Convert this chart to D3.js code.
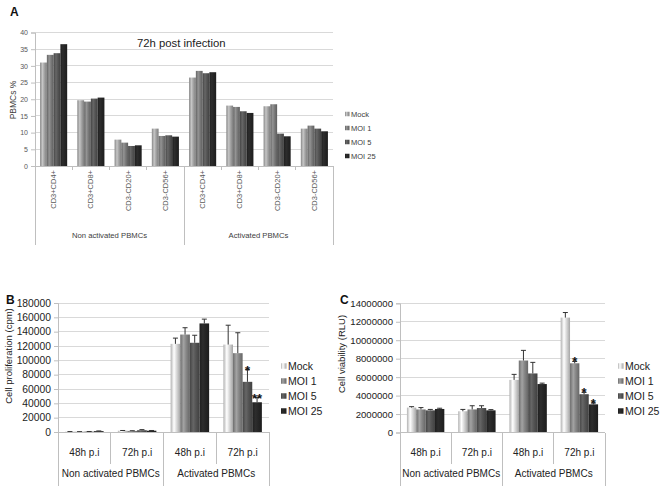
<!DOCTYPE html>
<html><head><meta charset="utf-8">
<script src="https://cdn.jsdelivr.net/npm/d3@7"></script>
<style>body{margin:0;background:#fff}svg{display:block;font-family:"Liberation Sans",Arial,sans-serif}</style>
</head><body>
<svg id="chart" width="661" height="486"></svg>
<script>
// ---------- data ----------
const seriesNames = ["Mock", "MOI 1", "MOI 5", "MOI 25"];

// Panel A
const aCategories = ["CD3+CD4+", "CD3+CD8+", "CD3-CD20+", "CD3-CD56+"];
const aGroups = ["Non activated PBMCs", "Activated PBMCs"];
const aMock  = [31.0, 19.7, 7.9, 11.2, 26.5, 18.1, 17.9, 11.2];
const aMOI1  = [33.3, 19.3, 7.0, 9.0, 28.5, 17.7, 18.5, 12.1];
const aMOI5  = [33.8, 20.2, 6.0, 9.2, 27.8, 16.4, 9.7, 11.2];
const aMOI25 = [36.5, 20.5, 6.2, 8.8, 28.1, 15.9, 8.9, 10.4];
const aTicks = [0, 5, 10, 15, 20, 25, 30, 35, 40];

// Panel B
const bCategories = ["48h p.i", "72h p.i"];
const bGroups = ["Non activated PBMCs", "Activated PBMCs"];
const bMock  = [400, 1800, 123000, 122000];
const bMOI1  = [300, 1500, 136000, 110000];
const bMOI5  = [500, 2500, 124500, 70000];
const bMOI25 = [1200, 1800, 151500, 41500];
const bMockErr  = [200, 300, 8000, 27000];
const bMOI1Err  = [200, 300, 9500, 28500];
const bMOI5Err  = [200, 800, 10500, 17000];
const bMOI25Err = [300, 300, 6000, 6500];
const bTicks = [0, 20000, 40000, 60000, 80000, 100000, 120000, 140000, 160000, 180000];
const bStars = [{cat: 3, s: 2, t: "*"}, {cat: 3, s: 3, t: "**"}];

// Panel C
const cMock  = [2700000, 2300000, 5700000, 12450000];
const cMOI1  = [2500000, 2500000, 7800000, 7500000];
const cMOI5  = [2400000, 2650000, 6400000, 4150000];
const cMOI25 = [2550000, 2400000, 5250000, 3050000];
const cMockErr  = [100000, 200000, 600000, 550000];
const cMOI1Err  = [200000, 400000, 1100000, 200000];
const cMOI5Err  = [100000, 250000, 1200000, 200000];
const cMOI25Err = [80000, 80000, 100000, 150000];
const cTicks = [0, 2000000, 4000000, 6000000, 8000000, 10000000, 12000000, 14000000];
const cStars = [{cat: 3, s: 1, t: "*"}, {cat: 3, s: 2, t: "*"}, {cat: 3, s: 3, t: "*"}];

// ---------- drawing ----------
const svg = d3.select("#chart");
const defs = svg.append("defs");
function grad(id, base) {
  const c = d3.color(base);
  const g = defs.append("linearGradient").attr("id", id).attr("x1", 0).attr("x2", 1).attr("y1", 0).attr("y2", 0);
  g.append("stop").attr("offset", "0%").attr("stop-color", c.darker(0.6));
  g.append("stop").attr("offset", "35%").attr("stop-color", c.brighter(0.5));
  g.append("stop").attr("offset", "60%").attr("stop-color", c);
  g.append("stop").attr("offset", "100%").attr("stop-color", c.darker(0.8));
}
const aColors = ["#a6a6a6", "#7c7c7c", "#565656", "#262626"];
const bcColors = ["#dcdcdc", "#888888", "#555555", "#262626"];
aColors.forEach((c, i) => grad("ga" + i, c));
bcColors.forEach((c, i) => grad("gb" + i, c));

function panel(o) {
  const g = svg.append("g");
  const y = d3.scaleLinear().domain(o.yDomain).range([o.bottom, o.top]);
  const nCat = o.series[0].length;
  const x = d3.scaleBand().domain(d3.range(nCat)).range([o.left, o.right]);
  const xs = d3.scaleBand().domain(d3.range(seriesNames.length)).range([0, x.bandwidth()]).paddingOuter(o.outerPad);
  // gridlines
  g.selectAll(".grid").data(o.ticks.slice(1)).join("line")
    .attr("x1", o.left).attr("x2", o.right).attr("y1", d => y(d)).attr("y2", d => y(d))
    .attr("stroke", "#d9d9d9").attr("stroke-width", 1).attr("shape-rendering", "crispEdges");
  // y axis
  const ya = d3.axisLeft(y).tickValues(o.ticks).tickSize(4).tickPadding(3).tickFormat(d3.format("d"));
  const yg = g.append("g").attr("transform", `translate(${o.left},0)`).call(ya);
  yg.select(".domain").attr("stroke", "#bfbfbf");
  yg.selectAll(".tick line").attr("stroke", "#bfbfbf");
  yg.selectAll("text").attr("font-size", o.tickFont).attr("fill", o.tickColor).attr("font-family", "Liberation Sans, Arial");
  // bars
  o.series.forEach((vals, s) => {
    g.selectAll(null).data(vals).join("rect")
      .attr("x", (d, i) => x(i) + xs(s)).attr("width", xs.bandwidth())
      .attr("y", d => y(d)).attr("height", d => o.bottom - y(d))
      .attr("fill", `url(#${o.gradPrefix}${s})`);
  });
  // error bars
  if (o.errors) {
    o.errors.forEach((errs, s) => {
      errs.forEach((e, i) => {
        const cx = x(i) + xs(s) + xs.bandwidth() / 2;
        const v = o.series[s][i];
        g.append("line").attr("x1", cx).attr("x2", cx).attr("y1", y(v)).attr("y2", y(v + e)).attr("stroke", "#333").attr("stroke-width", 1);
        g.append("line").attr("x1", cx - 2.5).attr("x2", cx + 2.5).attr("y1", y(v + e)).attr("y2", y(v + e)).attr("stroke", "#333").attr("stroke-width", 1);
      });
    });
  }
  if (o.stars) {
    o.stars.forEach(st => {
      const cx = x(st.cat) + xs(st.s) + xs.bandwidth() / 2;
      const top = o.series[st.s][st.cat] + (o.errors ? o.errors[st.s][st.cat] : 0);
      g.append("text").attr("x", cx).attr("y", y(top) + 5).attr("text-anchor", "middle")
        .attr("font-size", 13).attr("font-weight", "bold").attr("fill", "#111").text(st.t);
    });
  }
  // x axis line
  g.append("line").attr("x1", o.left).attr("x2", o.right).attr("y1", o.bottom).attr("y2", o.bottom)
    .attr("stroke", "#bfbfbf").attr("shape-rendering", "crispEdges");
  // category separators
  const perGroup = nCat / o.groups.length;
  d3.range(nCat + 1).forEach(i => {
    const xx = i < nCat ? x(i) : o.right;
    const isGroup = i % perGroup === 0;
    g.append("line").attr("x1", xx).attr("x2", xx).attr("y1", o.bottom)
      .attr("y2", isGroup ? o.groupLineEnd : o.catLineEnd)
      .attr("stroke", "#bfbfbf").attr("shape-rendering", "crispEdges");
  });
  // category labels
  d3.range(nCat).forEach(i => {
    const lab = o.catLabels[i % o.catLabels.length];
    const cx = x(i) + x.bandwidth() / 2;
    if (o.rotateCats) {
      g.append("text").attr("transform", `translate(${cx + 2.5},${o.bottom + 4}) rotate(-90)`)
        .attr("text-anchor", "end").attr("font-size", o.catFont).attr("fill", o.tickColor).text(lab);
    } else {
      g.append("text").attr("x", cx).attr("y", o.catY).attr("text-anchor", "middle")
        .attr("font-size", o.catFont).attr("fill", o.catColor).text(lab);
    }
  });
  // group labels
  o.groups.forEach((gl, gi) => {
    const x0 = x(gi * perGroup), x1 = gi * perGroup + perGroup < nCat ? x(gi * perGroup + perGroup) : o.right;
    g.append("text").attr("x", (x0 + x1) / 2).attr("y", o.groupY).attr("text-anchor", "middle")
      .attr("font-size", o.groupFont).attr("fill", o.catColor).text(gl);
  });
  // y title
  g.append("text").attr("transform", `translate(${o.yTitleX},${o.yTitleY}) rotate(-90)`)
    .attr("text-anchor", "middle").attr("font-size", o.yTitleFont).attr("fill", o.catColor).text(o.yTitle);
  // legend
  seriesNames.forEach((n, s) => {
    const ly = o.legendY + s * o.legendGap;
    g.append("rect").attr("x", o.legendX).attr("y", ly - o.legendBox / 2).attr("width", o.legendBox).attr("height", o.legendBox)
      .attr("fill", `url(#${o.gradPrefix}${s})`);
    g.append("text").attr("x", o.legendX + o.legendBox + 1.5).attr("y", ly).attr("dy", "0.35em")
      .attr("font-size", o.legendFont).attr("fill", o.catColor).text(n);
  });
  return g;
}

// Panel A
panel({
  left: 35, right: 333, top: 32.5, bottom: 166, yDomain: [0, 40], ticks: aTicks,
  series: [aMock, aMOI1, aMOI5, aMOI25], gradPrefix: "ga", outerPad: 0.75,
  tickFont: 7, tickColor: "#595959", catColor: "#404040",
  catLabels: aCategories, rotateCats: true, catFont: 7.5,
  groups: aGroups, groupY: 238, groupFont: 7.7, catLineEnd: 170, groupLineEnd: 245,
  yTitle: "PBMCs %", yTitleX: 16, yTitleY: 100, yTitleFont: 8.5,
  legendX: 345, legendY: 114, legendGap: 14, legendBox: 4.5, legendFont: 7.5
});
svg.append("text").attr("x", 137).attr("y", 47).attr("font-size", 11.3).attr("fill", "#222").text("72h post infection");

// Panel B
panel({
  left: 58, right: 269, top: 303, bottom: 432, yDomain: [0, 180000], ticks: bTicks,
  series: [bMock, bMOI1, bMOI5, bMOI25], errors: [bMockErr, bMOI1Err, bMOI5Err, bMOI25Err], stars: bStars,
  gradPrefix: "gb", outerPad: 0.74,
  tickFont: 10.3, tickColor: "#222", catColor: "#222",
  catLabels: bCategories, rotateCats: false, catFont: 10, catY: 456,
  groups: bGroups, groupY: 477, groupFont: 10, catLineEnd: 464, groupLineEnd: 486,
  yTitle: "Cell proliferation (cpm)", yTitleX: 12, yTitleY: 356, yTitleFont: 9.5,
  legendX: 281, legendY: 366, legendGap: 15, legendBox: 5.5, legendFont: 10.5
});

// Panel C
panel({
  left: 400, right: 605, top: 303.3, bottom: 432.5, yDomain: [0, 14000000], ticks: cTicks,
  series: [cMock, cMOI1, cMOI5, cMOI25], errors: [cMockErr, cMOI1Err, cMOI5Err, cMOI25Err], stars: cStars,
  gradPrefix: "gb", outerPad: 0.74,
  tickFont: 9.6, tickColor: "#222", catColor: "#222",
  catLabels: bCategories, rotateCats: false, catFont: 10, catY: 456,
  groups: bGroups, groupY: 477, groupFont: 10, catLineEnd: 464, groupLineEnd: 486,
  yTitle: "Cell viability (RLU)", yTitleX: 345, yTitleY: 354, yTitleFont: 9.5,
  legendX: 618, legendY: 366, legendGap: 15, legendBox: 5.5, legendFont: 10.5
});

// panel letters
[["A", 10, 16], ["B", 6, 304], ["C", 340, 304]].forEach(([t, x, y]) => {
  svg.append("text").attr("x", x).attr("y", y).attr("font-size", 12).attr("font-weight", "bold").attr("fill", "#111").text(t);
});
</script>
</body></html>
